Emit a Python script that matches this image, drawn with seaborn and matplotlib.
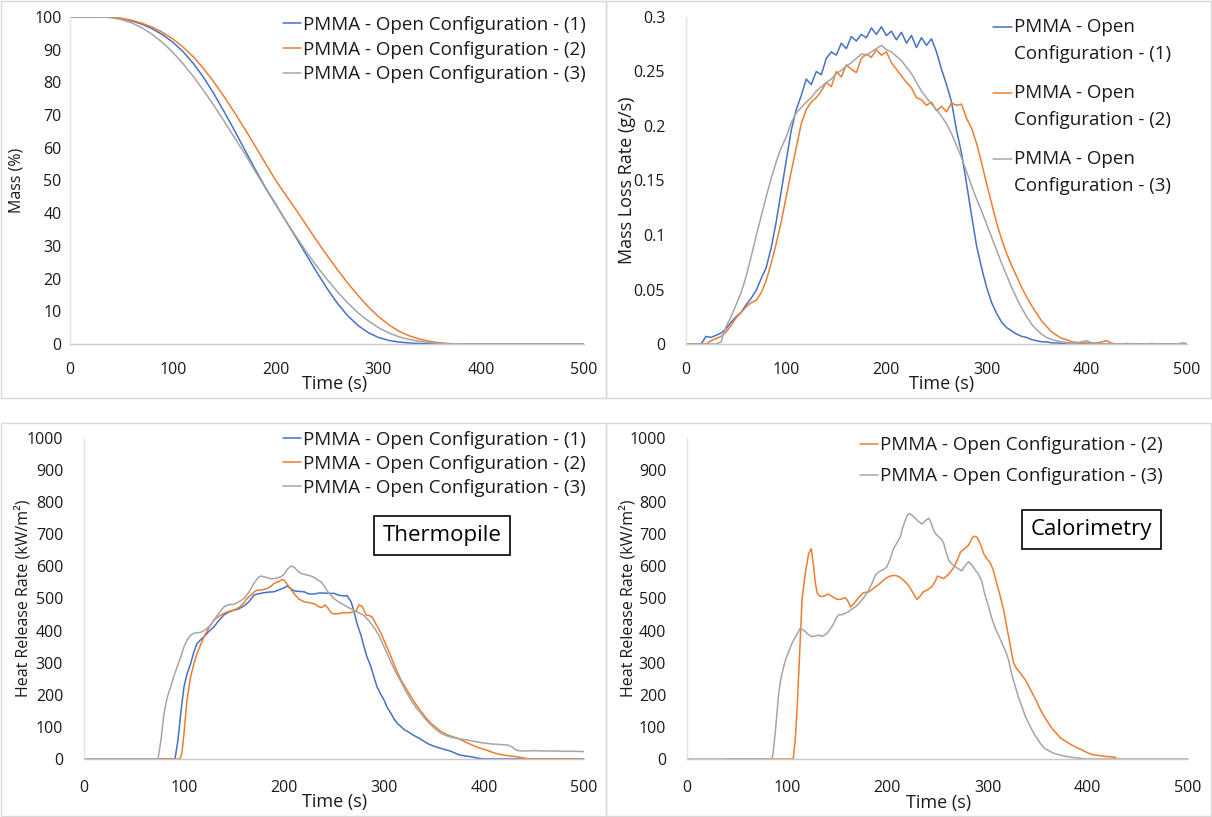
import numpy as np
import matplotlib
matplotlib.use("Agg")
import matplotlib.pyplot as plt
import seaborn as sns
from matplotlib.patches import Rectangle
from matplotlib.ticker import MultipleLocator, FuncFormatter
from matplotlib.legend_handler import HandlerLine2D

# ---------------- data ----------------
# Mass (%) sampled every 10 s
mass_time = np.arange(0, 510, 10)
mass_1 = [100, 100, 100, 100, 99.9, 99.5, 98.8, 97.8, 96.4, 94.6,
          92.3, 89.4, 85.8, 81.5, 76.5, 71.0, 65.3, 59.4, 53.5, 47.9,
          42.8, 37.6, 32.5, 27.2, 22.0, 17.0, 12.5, 8.7, 5.7, 3.5,
          2.0, 1.1, 0.6, 0.3, 0.15, 0.07, 0.03, 0, 0, 0,
          0, 0, 0, 0, 0, 0, 0, 0, 0, 0, 0]
mass_2 = [100, 100, 100, 100, 99.9, 99.6, 99.0, 98.1, 96.9, 95.3,
          93.3, 90.8, 87.8, 84.2, 80.1, 75.6, 70.8, 65.8, 60.6, 55.3,
          50.1, 45.5, 41.0, 36.3, 31.6, 27.1, 22.8, 18.7, 14.9, 11.4,
          8.4, 5.9, 3.9, 2.5, 1.5, 0.8, 0.35, 0.1, 0, 0,
          0, 0, 0, 0, 0, 0, 0, 0, 0, 0, 0]
mass_3 = [100, 100, 100, 100, 99.8, 99.2, 98.2, 96.7, 94.7, 92.2,
          89.2, 85.7, 81.8, 77.5, 72.9, 68.1, 63.1, 58.2, 52.9, 47.7,
          42.6, 37.6, 32.8, 28.2, 23.8, 19.8, 16.0, 12.6, 9.6, 7.1,
          5.0, 3.4, 2.2, 1.4, 0.8, 0.45, 0.22, 0.1, 0.04, 0,
          0, 0, 0, 0, 0, 0, 0, 0, 0, 0, 0]

# Mass loss rate (g/s) sampled every 5 s
mlr_time = np.arange(0, 505, 5)
mlr_1 = [0, 0, 0, 0, 0.007, 0.006, 0.008, 0.010, 0.014, 0.020,
         0.025, 0.029, 0.036, 0.042, 0.049, 0.060, 0.070, 0.088, 0.112, 0.140,
         0.168, 0.196, 0.215, 0.228, 0.243, 0.238, 0.250, 0.247, 0.262, 0.268,
         0.265, 0.276, 0.271, 0.282, 0.278, 0.284, 0.281, 0.290, 0.284, 0.291,
         0.283, 0.287, 0.279, 0.286, 0.276, 0.283, 0.272, 0.281, 0.274, 0.280,
         0.268, 0.252, 0.238, 0.222, 0.196, 0.175, 0.147, 0.118, 0.090, 0.070,
         0.052, 0.038, 0.028, 0.020, 0.015, 0.012, 0.009, 0.007, 0.006, 0.004,
         0.003, 0.002, 0.002, 0.001, 0.001, 0.0005, 0, 0, 0, 0,
         0, 0, 0, 0, 0, 0, 0, 0, 0, 0,
         0, 0, 0, 0, 0, 0, 0, 0, 0, 0, 0]
mlr_2 = [0, 0, 0, 0, 0, 0.003, 0.005, 0.007, 0.011, 0.017,
         0.024, 0.029, 0.034, 0.038, 0.040, 0.047, 0.058, 0.074, 0.092, 0.112,
         0.135, 0.158, 0.180, 0.202, 0.215, 0.222, 0.226, 0.232, 0.240, 0.236,
         0.250, 0.245, 0.256, 0.252, 0.249, 0.262, 0.266, 0.263, 0.270, 0.265,
         0.268, 0.258, 0.252, 0.246, 0.240, 0.235, 0.226, 0.224, 0.219, 0.222,
         0.214, 0.218, 0.213, 0.221, 0.219, 0.220, 0.207, 0.198, 0.184, 0.166,
         0.147, 0.129, 0.111, 0.096, 0.083, 0.072, 0.062, 0.052, 0.043, 0.035,
         0.028, 0.021, 0.016, 0.011, 0.008, 0.005, 0.004, 0.002, 0.0015, 0.001,
         0.001, 0.001, 0.001, 0.002, 0.003, 0.0005, 0, 0, 0.0005, 0,
         0, 0, 0, 0.0005, 0, 0, 0, 0, 0, 0, 0]
mlr_3 = [0, 0, 0, 0, 0, 0, 0, 0.002, 0.016, 0.025,
         0.036, 0.047, 0.062, 0.080, 0.099, 0.117, 0.135, 0.152, 0.167, 0.180,
         0.190, 0.203, 0.212, 0.217, 0.222, 0.226, 0.232, 0.236, 0.240, 0.243,
         0.248, 0.251, 0.255, 0.258, 0.262, 0.266, 0.265, 0.268, 0.271, 0.274,
         0.270, 0.268, 0.264, 0.260, 0.254, 0.248, 0.240, 0.232, 0.226, 0.220,
         0.215, 0.209, 0.202, 0.193, 0.182, 0.171, 0.158, 0.145, 0.133, 0.122,
         0.110, 0.098, 0.086, 0.074, 0.063, 0.052, 0.042, 0.033, 0.025, 0.018,
         0.013, 0.009, 0.006, 0.004, 0.003, 0.002, 0.0015, 0.001, 0.001, 0.002,
         0.003, 0.001, 0.0005, 0.0005, 0, 0.0005, 0, 0, 0, 0.0005,
         0, 0, 0, 0, 0, 0, 0, 0, 0, 0.001, 0.0005]

# Heat release rate, thermopile (kW/m2)
thermo_t1 = [0, 91, 94, 97, 100, 103, 106.7, 110, 113, 117, 120, 125, 130, 135, 140, 145, 150, 155,
             160, 165, 170, 175, 180, 185, 190, 195, 200, 203, 207, 210, 215, 220, 225, 230, 235,
             240, 245, 250, 255, 260, 263, 267, 270, 273, 277, 280, 283, 287, 290, 293, 297, 300,
             303, 307, 310, 313, 317, 320, 325, 330, 335, 340, 345, 350, 355, 360, 365, 370, 375,
             380, 385, 390, 395, 400, 500]
thermo_1 = [0, 0, 60, 150, 225, 265, 298, 335, 360, 372, 381, 398, 412, 432, 449, 458, 464, 468,
            477, 490, 511, 515, 518, 520, 521, 527, 533, 539, 530, 524, 522, 521, 514, 514, 517,
            517, 516, 516, 510, 508, 509, 490, 460, 422, 385, 350, 318, 287, 255, 225, 200, 184,
            162, 142, 125, 112, 101, 92, 83, 73, 65, 55, 46, 40, 35, 30, 26, 20, 13,
            10, 8, 5, 2, 0, 0]
thermo_t2 = [0, 96, 98, 100, 103, 106.7, 110, 113, 117, 120, 125, 130, 135, 140, 145, 150, 155, 160,
             163, 167, 170, 173, 178, 183, 187, 190, 195, 198, 200, 203, 207, 210, 215, 220, 225,
             230, 235, 238, 241, 244, 247, 250, 255, 260, 265, 268, 272, 275, 278, 282, 285, 288,
             292, 297, 302, 307, 312, 317, 322, 327, 332, 337, 342, 347, 352, 357, 362, 368, 375,
             380, 385, 390, 395, 400, 405, 410, 415, 420, 425, 430, 435, 440, 445, 500]
thermo_2 = [0, 0, 20, 80, 184, 257, 298, 329, 358, 381, 410, 433, 445, 454, 460, 464, 472, 487,
            500, 511, 520, 526, 527, 531, 538, 547, 553, 559, 558, 545, 528, 515, 498, 490, 487,
            484, 474, 472, 480, 470, 456, 452, 453, 456, 455, 458, 462, 480, 476, 449, 447, 443,
            420, 392, 355, 319, 280, 246, 220, 194, 170, 148, 128, 111, 98, 86, 77, 70, 63,
            55, 48, 41, 35, 30, 25, 19, 15, 12, 10, 8, 6, 3, 0, 0]
thermo_t3 = [0, 74, 77, 80, 83, 86.7, 90, 93.3, 97, 100, 103, 106.7, 110, 113, 117, 120, 123, 127,
             130, 135, 140, 145, 150, 155, 160, 165, 170, 174, 177, 182, 187, 192, 197, 200, 203,
             207, 210, 214, 217, 222, 227, 230, 234, 237, 240, 244, 247, 250, 255, 260, 265, 270,
             275, 280, 285, 290, 295, 300, 306, 312, 317, 322, 327, 332, 337, 342, 347, 352, 357,
             362, 367, 372, 377, 382, 387, 392, 397, 402, 407, 412, 417, 422, 425, 428, 431, 434,
             440, 450, 460, 470, 480, 490, 500]
thermo_3 = [0, 0, 60, 142, 190, 225, 260, 288, 320, 350, 370, 386, 392, 393, 395, 400, 407, 418,
            433, 455, 474, 481, 482, 490, 500, 520, 547, 565, 570, 566, 561, 563, 568, 575, 590,
            601, 598, 585, 578, 574, 570, 566, 557, 552, 540, 520, 510, 500, 488, 480, 471, 463,
            455, 447, 430, 410, 385, 350, 308, 268, 241, 210, 184, 160, 142, 122, 106, 92, 80,
            73, 68, 65, 62, 60, 57, 54, 51, 49, 47, 46, 45, 44, 42, 38, 30, 26,
            25, 26, 25, 25, 24, 24, 23]

# Heat release rate, calorimetry (kW/m2)
calo_t2 = [37, 106, 108, 110, 112, 114.8, 118, 121.4, 124, 126.4, 128, 130, 133, 137, 141, 145, 150,
           154, 158, 161, 163, 166, 168, 172, 176, 181, 186, 191, 196, 200, 203, 207, 210, 213,
           216, 220, 223, 226, 229.5, 232, 236, 240, 244.5, 248, 250, 253, 256, 260, 263, 267,
           270, 273, 277, 281, 284, 286, 289, 291, 294, 296, 299, 303, 306, 309, 312, 316, 318,
           321, 324, 326, 329, 333, 338, 343, 348, 353, 358, 363, 368, 373, 378, 383, 388, 393,
           398, 403, 408, 413, 418, 423, 428]
calo_2 = [0, 0, 60, 163, 300, 495, 578, 640, 655, 599, 550, 516, 506, 508, 514, 506, 497,
          498, 503, 490, 474, 482, 490, 505, 518, 520, 531, 543, 557, 566, 570, 572, 570, 565,
          557, 545, 531, 515, 497, 505, 521, 527, 537, 555, 570, 566, 562, 572, 583, 600,
          622, 645, 655, 666, 685, 694, 692, 682, 660, 640, 625, 609, 585, 547, 515, 464, 430,
          381, 330, 298, 282, 266, 245, 215, 185, 152, 125, 101, 82, 65, 55, 45, 37, 30,
          22, 15, 12, 10, 8, 7, 5]
calo_t3 = [0, 84.8, 86, 88, 90, 91.5, 94, 96.5, 99, 101.5, 104, 106.5, 110, 113, 116, 118, 121,
           124.8, 128, 131.4, 135, 139.7, 143, 146.4, 149, 151.4, 155, 158, 161, 163, 166, 168,
           171, 173, 177, 181.3, 185, 188, 191, 193, 196, 199.6, 203, 206.2, 210, 212.9, 215,
           217.9, 220, 222.2, 225, 227.9, 231, 234.5, 238, 241.2, 243, 246.2, 248, 251.2, 254,
           256.2, 258, 261.1, 264, 267.8, 271, 274.4, 277, 281.1, 284, 287.7, 291, 294.4, 297,
           301, 304, 307.7, 311, 314.4, 318, 321, 324, 327.7, 331, 334.3, 338, 342.6, 347,
           352.6, 357, 362.6, 367, 372.6, 378, 385, 392, 400, 500]
calo_3 = [0, 0, 20, 80, 150, 205, 255, 288, 315, 334, 355, 371, 390, 407, 402, 397, 388,
          381, 383, 386, 382, 391, 405, 422, 440, 449, 450, 454, 458, 464, 470, 474,
          482, 490, 505, 526, 550, 573, 582, 586, 590, 599, 625, 656, 676, 692, 718,
          744, 760, 765, 758, 750, 740, 732, 743, 750, 740, 713, 702, 692, 684,
          672, 650, 620, 608, 599, 592, 586, 600, 615, 605, 589, 575, 552, 515,
          474, 440, 407, 385, 360, 335, 308, 265, 225, 190, 163, 130, 101, 75,
          49, 33, 23, 17, 12, 8, 5, 2, 0, 0]

labels = ["PMMA - Open Configuration - (1)",
          "PMMA - Open Configuration - (2)",
          "PMMA - Open Configuration - (3)"]
labels_wrapped = ["PMMA - Open\nConfiguration - (1)",
                  "PMMA - Open\nConfiguration - (2)",
                  "PMMA - Open\nConfiguration - (3)"]
colors = ["#4472C4", "#ED7D31", "#A5A5A5"]

# ---------------- style ----------------
sns.set_style("white")
plt.rcParams["font.family"] = ["Open Sans", "DejaVu Sans"]
TXT = "#1a1a1a"
W, H = 1212, 817

fig = plt.figure(figsize=(W / 100, H / 100), dpi=100)

# light frames around each chart (pixel boxes)
for x0, y0, x1, y1 in [(1, 1, 606, 398), (606, 1, 1211, 398),
                       (1, 423, 606, 816), (606, 423, 1211, 816)]:
    fig.add_artist(Rectangle((x0 / W, 1 - y1 / H), (x1 - x0) / W, (y1 - y0) / H,
                             transform=fig.transFigure, fill=False,
                             ec="#d9d9d9", lw=1))


def px_axes(left, right, top, bottom):
    return fig.add_axes([left / W, 1 - bottom / H, (right - left) / W, (bottom - top) / H])


def style(ax, ymax, ymaj, ymin, ypad, xpad):
    ax.set_xlim(0, 500)
    ax.set_ylim(0, ymax)
    ax.xaxis.set_major_locator(MultipleLocator(100))
    ax.xaxis.set_minor_locator(MultipleLocator(20))
    ax.yaxis.set_major_locator(MultipleLocator(ymaj))
    ax.yaxis.set_minor_locator(MultipleLocator(ymin))
    ax.yaxis.set_major_formatter(FuncFormatter(lambda v, p: f"{round(v, 4):g}"))
    for s in ["top", "right"]:
        ax.spines[s].set_visible(False)
    ax.spines["left"].set_color("#e3e3e3")
    ax.spines["bottom"].set_color("#c8c8c8")
    ax.spines["left"].set_linewidth(1)
    ax.spines["bottom"].set_linewidth(1)
    ax.tick_params(axis="x", which="both", direction="out", length=5, width=1,
                   color="#c8c8c8", labelsize=11.5, labelcolor=TXT, pad=xpad)
    ax.tick_params(axis="y", which="both", direction="out", length=3, width=1,
                   color="#e3e3e3", labelsize=11.5, labelcolor=TXT, pad=ypad)
    ax.set_facecolor("none")


def draw(ax, xs, ys, cols, labs):
    for x, y, c, l in zip(xs, ys, cols, labs):
        sns.lineplot(x=x, y=y, color=c, linewidth=1.1, label=l, ax=ax)


class TopHandler(HandlerLine2D):
    def __init__(self, shift, **kw):
        super().__init__(**kw)
        self.shift = shift

    def create_artists(self, legend, orig_handle, xdescent, ydescent, width,
                       height, fontsize, trans):
        arts = super().create_artists(legend, orig_handle, xdescent, ydescent,
                                      width, height, fontsize, trans)
        for a in arts:
            a.set_ydata(np.asarray(a.get_ydata()) + self.shift)
        return arts


LEG = 13.5

# ---------- panel 1: mass ----------
ax1 = px_axes(70, 584, 17, 344)
draw(ax1, [mass_time] * 3, [mass_1, mass_2, mass_3], colors, labels)
style(ax1, 100, 10, 2, 3, 8)
ax1.set_ylabel("Mass (%)", fontsize=11.5, color=TXT)
ax1.yaxis.set_label_coords(-0.088, 0.5)
ax1.set_xlabel("Time (s)", fontsize=13, color=TXT)
ax1.xaxis.set_label_coords(0.515, -0.095)
ax1.legend(loc="upper right", bbox_to_anchor=(1.004, 1.003), frameon=False,
           fontsize=LEG, handlelength=1.0, handletextpad=0.1, labelspacing=0.35,
           borderpad=0, borderaxespad=0, labelcolor=TXT)

# ---------- panel 2: mass loss rate ----------
ax2 = px_axes(686, 1187, 17, 344)
draw(ax2, [mlr_time] * 3, [mlr_1, mlr_2, mlr_3], colors, labels_wrapped)
style(ax2, 0.3, 0.05, 0.01, 12, 8)
ax2.set_ylabel("Mass Loss Rate (g/s)", fontsize=13, color=TXT)
ax2.yaxis.set_label_coords(-0.1, 0.5)
ax2.set_xlabel("Time (s)", fontsize=13, color=TXT)
ax2.xaxis.set_label_coords(0.511, -0.095)
h2, l2 = ax2.get_legend_handles_labels()
leg2 = ax2.legend(h2, l2, loc="upper right", bbox_to_anchor=(0.968, 0.997), frameon=False,
                  fontsize=LEG, handlelength=1.0, handletextpad=0.1, labelspacing=1.13,
                  borderpad=0, borderaxespad=0, labelcolor=TXT,
                  handler_map={h: TopHandler(9.8) for h in h2})
for t in leg2.get_texts():
    t.set_linespacing(1.63)

# ---------- panel 3: HRR thermopile ----------
ax3 = px_axes(84, 584, 438, 759)
draw(ax3, [thermo_t1, thermo_t2, thermo_t3], [thermo_1, thermo_2, thermo_3], colors, labels)
style(ax3, 1000, 100, 20, 12, 10)
ax3.set_ylabel("Heat Release Rate (kW/m²)", fontsize=11.5, color=TXT)
ax3.yaxis.set_label_coords(-0.106, 0.5)
ax3.set_xlabel("Time (s)", fontsize=13, color=TXT)
ax3.xaxis.set_label_coords(0.501, -0.105)
ax3.legend(loc="upper right", bbox_to_anchor=(1.004, 1.022), frameon=False,
           fontsize=LEG, handlelength=1.0, handletextpad=0.1, labelspacing=0.32,
           borderpad=0, borderaxespad=0, labelcolor=TXT)
ax3.text(358, 696, "Thermopile", fontsize=16, color="black", ha="center", va="center",
         bbox=dict(boxstyle="square,pad=0.4", fc="white", ec="black", lw=1.2))

# ---------- panel 4: HRR calorimetry ----------
ax4 = px_axes(687, 1188, 438, 759)
draw(ax4, [calo_t2, calo_t3], [calo_2, calo_3], colors[1:], labels[1:])
style(ax4, 1000, 100, 20, 12, 10)
ax4.set_ylabel("Heat Release Rate (kW/m²)", fontsize=11.5, color=TXT)
ax4.yaxis.set_label_coords(-0.1, 0.5)
ax4.set_xlabel("Time (s)", fontsize=13, color=TXT)
ax4.xaxis.set_label_coords(0.503, -0.108)
ax4.legend(loc="upper right", bbox_to_anchor=(0.95, 1.006), frameon=False,
           fontsize=LEG, handlelength=1.0, handletextpad=0.1, labelspacing=0.7,
           borderpad=0, borderaxespad=0, labelcolor=TXT)
ax4.text(404, 715, "Calorimetry", fontsize=16, color="black", ha="center", va="center",
         bbox=dict(boxstyle="square,pad=0.4", fc="white", ec="black", lw=1.2))

fig.savefig("out.png", dpi=100, facecolor="white")
